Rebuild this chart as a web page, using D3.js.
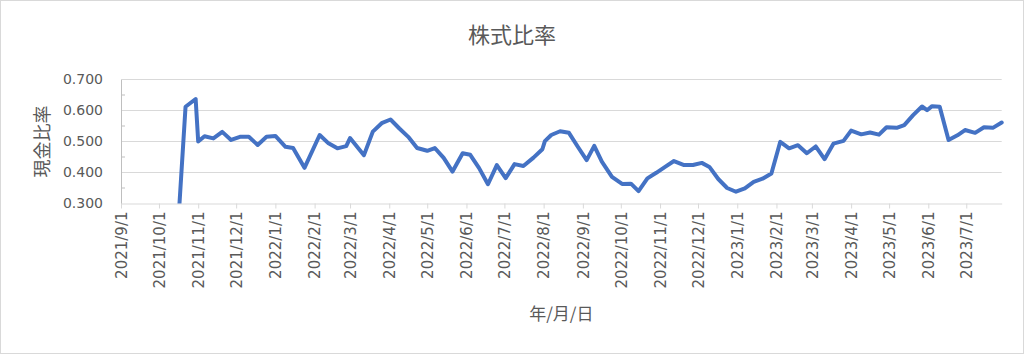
<!DOCTYPE html>
<html>
<head>
<meta charset="utf-8">
<script src="https://cdn.jsdelivr.net/npm/d3@7"></script>
<style>
    body { margin: 0; background: #fff; }
    text { font-family: "Noto Sans CJK JP", "Noto Sans", sans-serif; fill: #595959; }
</style>
</head>
<body>
<svg id="mainFrame"></svg>
<script>
// weekly data
const dates = [
    '2021-10-15', '2021-10-22', '2021-10-30', '2021-11-01', '2021-11-06', '2021-11-13', '2021-11-20', '2021-11-27',
    '2021-12-04', '2021-12-11', '2021-12-18', '2021-12-25', '2022-01-01', '2022-01-09', '2022-01-15', '2022-01-24',
    '2022-02-05', '2022-02-12', '2022-02-19', '2022-02-26', '2022-03-01', '2022-03-12', '2022-03-19', '2022-03-26',
    '2022-04-02', '2022-04-09', '2022-04-16', '2022-04-23', '2022-05-01', '2022-05-07', '2022-05-14', '2022-05-21',
    '2022-05-29', '2022-06-04', '2022-06-11', '2022-06-18', '2022-06-25', '2022-07-02', '2022-07-09', '2022-07-16',
    '2022-07-24', '2022-07-31', '2022-08-02', '2022-08-07', '2022-08-14', '2022-08-21', '2022-08-28', '2022-09-04',
    '2022-09-10', '2022-09-16', '2022-09-24', '2022-10-02', '2022-10-09', '2022-10-15', '2022-10-22', '2022-10-29',
    '2022-11-05', '2022-11-12', '2022-11-20', '2022-11-27', '2022-12-04', '2022-12-10', '2022-12-17', '2022-12-24',
    '2022-12-31', '2023-01-07', '2023-01-14', '2023-01-21', '2023-01-28', '2023-02-04', '2023-02-11', '2023-02-18',
    '2023-02-25', '2023-03-04', '2023-03-11', '2023-03-18', '2023-03-26', '2023-04-01', '2023-04-09', '2023-04-16',
    '2023-04-23', '2023-04-29', '2023-05-07', '2023-05-13', '2023-05-20', '2023-05-27', '2023-05-31', '2023-06-04',
    '2023-06-10', '2023-06-17', '2023-06-24', '2023-06-30', '2023-07-08', '2023-07-15', '2023-07-22', '2023-07-29'
]
const ratios = [
    0.155, 0.612, 0.637, 0.500, 0.517, 0.510, 0.531, 0.505, 0.515, 0.515,
    0.489, 0.515, 0.518, 0.483, 0.479, 0.415, 0.521, 0.494, 0.478, 0.485,
    0.511, 0.456, 0.532, 0.559, 0.571, 0.542, 0.515, 0.479, 0.470, 0.479,
    0.447, 0.403, 0.462, 0.457, 0.414, 0.362, 0.424, 0.382, 0.427, 0.421,
    0.448, 0.475, 0.501, 0.521, 0.533, 0.528, 0.483, 0.440, 0.486, 0.435,
    0.386, 0.363, 0.364, 0.340, 0.381, 0.399, 0.418, 0.437, 0.424, 0.424,
    0.431, 0.418, 0.379, 0.350, 0.338, 0.349, 0.370, 0.380, 0.397, 0.499,
    0.478, 0.488, 0.462, 0.484, 0.443, 0.493, 0.502, 0.535, 0.523, 0.529,
    0.522, 0.546, 0.544, 0.553, 0.585, 0.613, 0.601, 0.614, 0.612, 0.505,
    0.520, 0.537, 0.528, 0.546, 0.544, 0.561
]
const yTicks = [0.3, 0.4, 0.5, 0.6, 0.7]
const yMinorTicks = [0.35, 0.45, 0.55, 0.65]
const axisStart = '2021-09-01'
const chartTitle = '株式比率'
const yTitle = '現金比率'
const xTitle = '年/月/日'

const width = 1024
const height = 354
const margin = {
    top: 79.5,
    right: 22.3,
    bottom: 150.5,
    left: 121
}
const ourWidth = width - margin.left - margin.right
const ourHeight = height - margin.top - margin.bottom
const tickFont = '"DejaVu Sans", sans-serif'

const parseDate = d3.timeParse('%Y-%m-%d')
const data = dates.map((d, i) => ({date: parseDate(d), value: ratios[i]}))

const svg = d3.select('#mainFrame')
    .attr('width', width)
    .attr('height', height)

// chart border
svg.append('rect')
    .attr('x', 0.5)
    .attr('y', 0.5)
    .attr('width', width - 1)
    .attr('height', height - 1)
    .attr('fill', '#fff')
    .attr('stroke', '#d9d9d9')

const x = d3.scaleTime()
    .domain([parseDate(axisStart), data[data.length - 1].date])
    .range([0, ourWidth])

const y = d3.scaleLinear()
    .domain([yTicks[0], yTicks[yTicks.length - 1]])
    .range([ourHeight, 0])

const g = svg.append('g')
    .attr('transform', `translate(${margin.left},${margin.top})`)

// gridlines
g.selectAll('.grid')
    .data(yTicks.slice(1))
    .join('line')
    .attr('class', 'grid')
    .attr('x1', 0)
    .attr('x2', ourWidth)
    .attr('y1', d => y(d))
    .attr('y2', d => y(d))
    .attr('stroke', '#d9d9d9')
    .attr('stroke-width', 1)

// y axis
const yAxis = g.append('g')
    .call(d3.axisLeft(y).tickValues(yTicks).tickFormat(d3.format('.3f')).tickSize(0).tickPadding(18))
yAxis.select('.domain').attr('stroke', '#bfbfbf')
yAxis.selectAll('text')
    .style('font-family', tickFont)
    .style('font-size', '14px')
    .attr('fill', '#595959')

g.selectAll('.minor')
    .data(yMinorTicks)
    .join('line')
    .attr('class', 'minor')
    .attr('x1', 0)
    .attr('x2', 4)
    .attr('y1', d => y(d))
    .attr('y2', d => y(d))
    .attr('stroke', '#bfbfbf')

// x axis
const xAxis = g.append('g')
    .attr('transform', `translate(0,${ourHeight})`)
    .call(d3.axisBottom(x)
        .ticks(d3.timeMonth.every(1))
        .tickFormat(d3.timeFormat('%Y/%-m/%-d'))
        .tickSizeInner(5)
        .tickSizeOuter(0))
xAxis.select('.domain').attr('stroke', '#d9d9d9')
xAxis.selectAll('line').attr('stroke', '#d9d9d9')
xAxis.selectAll('text')
    .style('font-family', tickFont)
    .style('font-size', '15px')
    .attr('fill', '#595959')
    .attr('transform', 'rotate(-90)')
    .attr('text-anchor', 'end')
    .attr('x', -8)
    .attr('y', 0)
    .attr('dy', '0.35em')

// line, clipped to the plot area
svg.append('clipPath')
    .attr('id', 'plotClip')
    .append('rect')
    .attr('x', -5)
    .attr('y', -5)
    .attr('width', ourWidth + 10)
    .attr('height', ourHeight + 5)

const line = d3.line()
    .x(d => x(d.date))
    .y(d => y(d.value))

g.append('path')
    .datum(data)
    .attr('clip-path', 'url(#plotClip)')
    .attr('fill', 'none')
    .attr('stroke', '#4472c4')
    .attr('stroke-width', 4)
    .attr('stroke-linejoin', 'round')
    .attr('stroke-linecap', 'round')
    .attr('d', line)

// titles
svg.append('text')
    .text(chartTitle)
    .attr('x', width / 2)
    .attr('y', 43)
    .attr('text-anchor', 'middle')
    .style('font-size', '22px')

svg.append('text')
    .text(yTitle)
    .attr('transform', `translate(49,${margin.top + ourHeight / 2}) rotate(-90)`)
    .attr('text-anchor', 'middle')
    .style('font-size', '18px')

svg.append('text')
    .text(xTitle)
    .attr('x', margin.left + ourWidth / 2)
    .attr('y', 320)
    .attr('text-anchor', 'middle')
    .style('font-size', '17px')
</script>
</body>
</html>
